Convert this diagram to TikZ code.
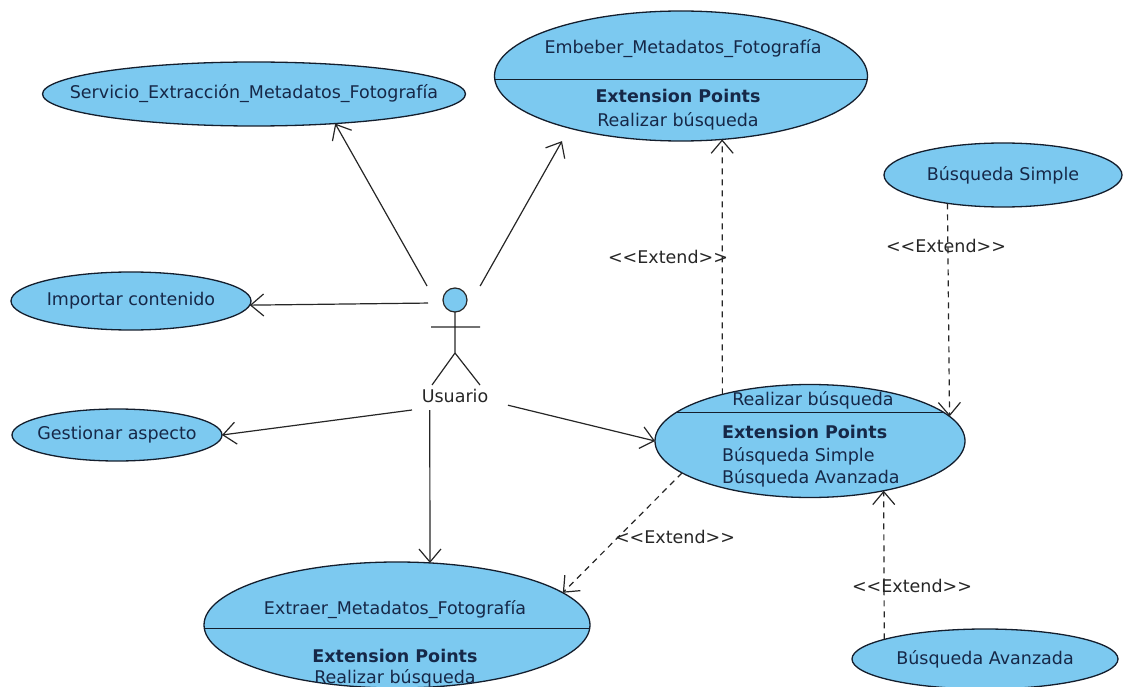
\documentclass[tikz,border=0pt]{standalone}
\usepackage{fontspec}
\setmainfont{DejaVu Sans}
\usepackage{xcolor}
\usetikzlibrary{shapes.geometric, arrows.meta, positioning, calc}
\definecolor{ucfill}{RGB}{124,201,240}
\definecolor{ucline}{RGB}{20,30,45}
\definecolor{ucink}{RGB}{22,40,72}
\newcommand{\ucfont}{\fontsize{17.5}{21}\selectfont}
\newcommand{\extlabel}{<\kern0pt<Extend>\kern0pt>}
\tikzset{
  usecase/.style={ellipse, draw=ucline, fill=ucfill, line width=1.3pt, inner sep=0pt, outer sep=0pt},
  uctext/.style={font=\ucfont, text=ucink, inner sep=0pt},
  ucbold/.style={font=\ucfont\bfseries, text=ucink, inner sep=0pt},
  stereo/.style={font=\ucfont, text=black!85, inner sep=1pt},
  actorbox/.style={rectangle, minimum width=96pt, minimum height=124pt, inner sep=0pt, outer sep=0pt},
  actorline/.style={line width=1.2pt, draw=black!85},
  sepline/.style={line width=1.3pt, draw=ucline},
  assoc/.style={line width=1.2pt, draw=black!85, -{Straight Barb[length=13pt, width=22pt, line width=1.2pt]}},
  extend/.style={assoc, dash pattern=on 6pt off 5pt}
}

\begin{document}
\begin{tikzpicture}[x=1pt, y=-1pt]
\useasboundingbox (0,0) rectangle (1135,687);

% use cases
\node[usecase, minimum width=423pt, minimum height=64pt] (servicio) at (254,94) {};
\node[uctext] (servicio-txt) at (servicio.center) {Servicio\_Extracción\_Metadatos\_Fotografía};

\node[usecase, minimum width=240pt, minimum height=58pt] (importar) at (131,301) {};
\node[uctext] (importar-txt) at (importar.center) {Importar contenido};

\node[usecase, minimum width=210pt, minimum height=52pt] (gestionar) at (117,435) {};
\node[uctext] (gestionar-txt) at (gestionar.center) {Gestionar aspecto};

\node[usecase, minimum width=238pt, minimum height=64pt] (bsimple) at (1003,175) {};
\node[uctext] (bsimple-txt) at (bsimple.center) {Búsqueda Simple};

\node[usecase, minimum width=266pt, minimum height=60pt] (bavanzada) at (985,659) {};
\node[uctext] (bavanzada-txt) at (bavanzada.center) {Búsqueda Avanzada};

% use cases with extension points
\node[usecase, minimum width=373pt, minimum height=130pt] (embeber) at (681,76) {};
\draw[sepline] (embeber.181.2) -- (embeber.-1.2);
\node[uctext, anchor=base] (embeber-txt) at (683,54) {Embeber\_Metadatos\_Fotografía};
\node[ucbold, anchor=base] (embeber-ep) at (678,103) {Extension Points};
\node[uctext, anchor=base] (embeber-rb) at (678,127) {Realizar búsqueda};

\node[usecase, minimum width=310pt, minimum height=113pt] (realizar) at (810,441) {};
\draw[sepline] (realizar.168) -- (realizar.12);
\node[uctext, anchor=base] (realizar-txt) at (813,405) {Realizar búsqueda};
\node[ucbold, anchor=base west] (realizar-ep) at (722,438) {Extension Points};
\node[uctext, anchor=base west] (realizar-bs) at (722,461) {Búsqueda Simple};
\node[uctext, anchor=base west] (realizar-ba) at (722,483) {Búsqueda Avanzada};

\node[usecase, minimum width=386pt, minimum height=126pt] (extraer) at (397,625) {};
\draw[sepline] (extraer.181.8) -- (extraer.-1.8);
\node[uctext, anchor=base] (extraer-txt) at (395,614) {Extraer\_Metadatos\_Fotografía};
\node[ucbold, anchor=base] (extraer-ep) at (395,662) {Extension Points};
\node[uctext, anchor=base] (extraer-rb) at (395,683) {Realizar búsqueda};

% actor
\node[actorbox] (usuario) at (460,348) {};
\draw[actorline] (455,312) -- (455,353) (431,327) -- (480,327)
  (432,385) -- (455,353) -- (480,385);
\draw[actorline, fill=ucfill] (455,300) circle (12pt);
\node[stereo] (usuario-txt) at (455,396) {Usuario};

% associations
\draw[assoc] (usuario.118) -- (servicio.-20);
\draw[assoc, shorten >=15pt] (usuario.72) -- (embeber.-155);
\draw[assoc, shorten <=-16pt] (usuario.137) -- (importar.-2);
\draw[assoc] (usuario.south west) -- (gestionar.east);
\draw[assoc] (usuario.-116) -- (extraer.62);
\draw[assoc] (usuario.-50) -- (realizar.west);

% extends
\draw[extend] (realizar.152) -- (embeber.-57);
\draw[extend] (bsimple.-153) -- (realizar.10.5);
\draw[extend] (bavanzada.169) -- (realizar.-34);
\draw[extend] (realizar.-166) -- (extraer.11);

\node[stereo] (ext-embeber) at (668,257) {\extlabel};
\node[stereo] (ext-simple) at (946,246) {\extlabel};
\node[stereo] (ext-avanzada) at (912,586) {\extlabel};
\node[stereo] (ext-extraer) at (675,537) {\extlabel};
\end{tikzpicture}
\end{document}
